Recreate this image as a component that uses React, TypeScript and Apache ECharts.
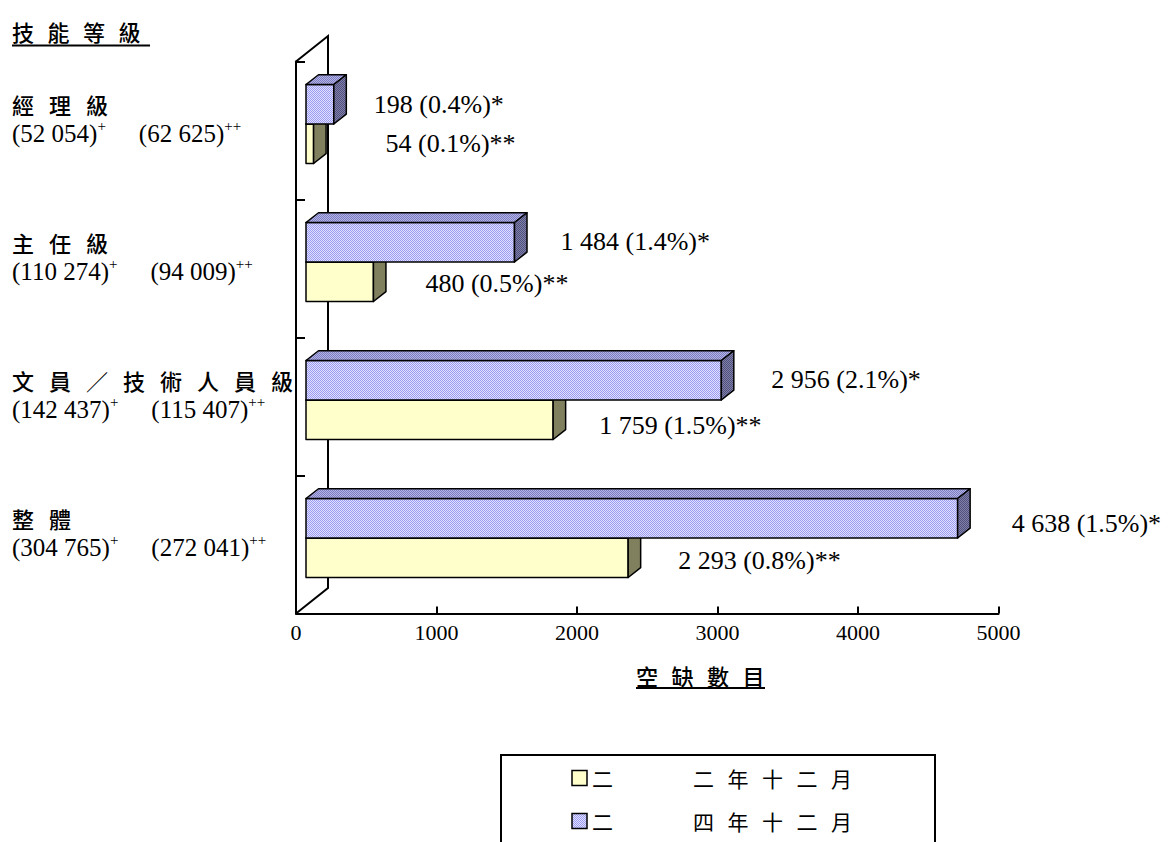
import React, { useEffect, useRef } from 'react';
import * as echarts from 'echarts';

// ---------- data ----------
const categories = ['經 理 級', '主 任 級', '文 員 ／ 技 術 人 員 級', '整 體'];
const employmentPlus = ['52 054', '110 274', '142 437', '304 765'];
const employmentPlusPlus = ['62 625', '94 009', '115 407', '272 041'];
const vacancies2002 = [54, 480, 1759, 2293];
const vacancies2004 = [198, 1484, 2956, 4638];
const rate2002 = [0.1, 0.5, 1.5, 0.8];
const rate2004 = [0.4, 1.4, 2.1, 1.5];
const seriesNames = ['二○○二年十二月', '二○○四年十二月'];
const legendVisible = [
  ['二', '二 年 十 二 月'],
  ['二', '四 年 十 二 月'],
];
const xMin = 0;
const xMax = 5000;
const xStep = 1000;
const yTitle = '技 能 等 級';
const xTitle = '空 缺 數 目';

// ---------- layout / style ----------
const GRID = { left: 296, top: 61.5, width: 702.5, height: 552 };
const FACE = [10, -6.5]; // offset of the bars' front face from the front plane
const DEPTH = [12.5, -9.8]; // bar depth
const WALL = [32, -25.5]; // wall depth
const BAR_FRAC = 0.286;
const LABEL_OFF_2004 = [[40, 0], [46, -1], [50, -1], [54, 5]];
const LABEL_OFF_2002 = [[72, 0], [52, 2], [46, 6], [50, 3]];
const LEGEND_BOX = { x: 501, y: 755, w: 434, h: 120 };
const LEGEND_ROWS = [778, 821];
const CJK = '"Noto Sans CJK TC", "Noto Sans CJK SC", sans-serif';
const SERIF = '"Liberation Serif", "Times New Roman", serif';

const fmt = (n: number) => String(n).replace(/\B(?=(\d{3})+(?!\d))/g, ' ');
const spaced = (s: string, cls: string, gap: string) =>
  s.split(' ').map((ch) => `{${cls}|${ch}}`).join(`{${gap}| }`);

function checker(a: string, b: string) {
  const c = document.createElement('canvas');
  c.width = 2;
  c.height = 2;
  const ctx = c.getContext('2d')!;
  ctx.fillStyle = a;
  ctx.fillRect(0, 0, 2, 2);
  ctx.fillStyle = b;
  ctx.fillRect(0, 0, 1, 1);
  ctx.fillRect(1, 1, 1, 1);
  return { image: c, repeat: 'repeat' } as any;
}

export default function App() {
  const ref = useRef<HTMLDivElement>(null);

  useEffect(() => {
    if (!ref.current) return;
    const chart = echarts.init(ref.current, undefined, { renderer: 'svg' });

    const blueFront = checker('#E2E2FF', '#9A9AF2');
    const blueTop = checker('#B4B4E6', '#7C7CC0');
    const blueSide = checker('#8080A8', '#50507E');
    const yellowFills = { front: '#FFFFCC', top: '#E8E8A8', side: '#80805F' };
    const blueFills = { front: blueFront, top: blueTop, side: blueSide };
    const swatchFills = [yellowFills.front, blueFront];

    const makeBar = (upper: boolean, fills: any, values: number[], rates: number[], offs: number[][], stars: string) =>
      (params: any, api: any) => {
        const ci = api.value(0) as number;
        const v = api.value(1) as number;
        const p0 = api.coord([0, ci]);
        const p1 = api.coord([v, ci]);
        const band = api.size([0, 1])[1];
        const h = band * BAR_FRAC;
        const cy = p0[1] + FACE[1];
        const top = upper ? cy - h : cy;
        const bot = top + h;
        const L = p0[0] + FACE[0];
        const R = p1[0] + FACE[0];
        const [dx, dy] = DEPTH;
        const stroke = { stroke: '#000', lineWidth: 1.5, lineJoin: 'round' };
        const label = `${fmt(values[ci])} (${rates[ci].toFixed(1)}%)${stars}`;
        const off = offs[ci];
        return {
          type: 'group',
          children: [
            { type: 'rect', shape: { x: L, y: top, width: R - L, height: h }, style: { fill: fills.front, ...stroke } },
            {
              type: 'polygon',
              shape: { points: [[L, top], [L + dx, top + dy], [R + dx, top + dy], [R, top]] },
              style: { fill: fills.top, ...stroke },
            },
            {
              type: 'polygon',
              shape: { points: [[R, top], [R + dx, top + dy], [R + dx, bot + dy], [R, bot]] },
              style: { fill: fills.side, ...stroke },
            },
            {
              type: 'text',
              x: R + off[0],
              y: (top + bot) / 2 + off[1],
              style: {
                text: label,
                fill: '#000',
                fontSize: 26,
                fontFamily: SERIF,
                align: 'left',
                verticalAlign: 'middle',
                textAlign: 'left',
                textVerticalAlign: 'middle',
              },
            },
          ],
        };
      };

    const richCJK = {
      h: { fontSize: 22, fontFamily: CJK, fontWeight: 500, color: '#000', lineHeight: 30 },
      g: { width: 15, fontSize: 22, lineHeight: 30 },
      n: { fontSize: 25, fontFamily: SERIF, color: '#000', lineHeight: 30 },
      s: { fontSize: 15, fontFamily: SERIF, color: '#000', lineHeight: 20, verticalAlign: 'top' },
      gap: { width: 33, fontSize: 15, lineHeight: 20 },
    };

    const titleRich = {
      h: { fontSize: 22, fontFamily: CJK, fontWeight: 500, fill: '#000', lineHeight: 24 },
      g: { width: 13.5, fontSize: 22, lineHeight: 24 },
    };

    const legendGraphics: any[] = [
      {
        type: 'rect',
        z: 10,
        shape: { x: LEGEND_BOX.x, y: LEGEND_BOX.y, width: LEGEND_BOX.w, height: LEGEND_BOX.h },
        style: { fill: '#fff', stroke: '#000', lineWidth: 2 },
      },
    ];
    seriesNames.forEach((_, i) => {
      const y = LEGEND_ROWS[i];
      legendGraphics.push({
        type: 'rect',
        z: 11,
        shape: { x: 572, y: y - 7.5, width: 15, height: 15 },
        style: { fill: swatchFills[i], stroke: '#000', lineWidth: 1.5 },
      });
      const [a, b] = legendVisible[i];
      legendGraphics.push({
        type: 'text',
        z: 11,
        x: 592,
        y,
        style: {
          text: `{t|${a}}{w| }` + spaced(b, 't', 'g'),
          verticalAlign: 'middle',
          align: 'left',
          rich: {
            t: { fontSize: 21, fontFamily: CJK, fill: '#000', lineHeight: 22 },
            w: { width: 80, fontSize: 21, lineHeight: 22 },
            g: { width: 13.5, fontSize: 21, lineHeight: 22 },
          },
        },
      });
    });

    const option: any = {
      animation: false,
      backgroundColor: '#fff',
      grid: { left: GRID.left, top: GRID.top, width: GRID.width, height: GRID.height, containLabel: false },
      xAxis: {
        type: 'value',
        position: 'bottom',
        min: xMin,
        max: xMax,
        interval: xStep,
        splitLine: { show: false },
        axisLine: { show: true, lineStyle: { color: '#000', width: 2 } },
        axisTick: { show: true, inside: true, length: 7, lineStyle: { color: '#000', width: 2 } },
        axisLabel: {
          color: '#000',
          fontFamily: SERIF,
          fontSize: 22,
          margin: 8,
          formatter: (v: number) => String(v),
        },
      },
      yAxis: {
        type: 'category',
        inverse: true,
        data: categories,
        axisLine: { show: true, lineStyle: { color: '#000', width: 2 } },
        axisTick: { show: true, inside: true, length: 9, lineStyle: { color: '#000', width: 2 } },
        splitLine: { show: false },
        axisLabel: {
          interval: 0,
          align: 'left',
          margin: GRID.left - 12,
          padding: [0, 0, 24, 0],
          formatter: (val: string, i: number) =>
            spaced(val, 'h', 'g') +
            '\n' +
            `{n|(${employmentPlus[i]})}{s|+}{gap| }{n|(${employmentPlusPlus[i]})}{s|++}`,
          rich: richCJK,
        },
      },
      graphic: [
        {
          type: 'text',
          left: 12,
          top: 20,
          z: 10,
          style: { text: spaced(yTitle, 'h', 'g'), rich: titleRich },
        },
        { type: 'line', z: 10, shape: { x1: 12, y1: 45.5, x2: 150, y2: 45.5 }, style: { stroke: '#000', lineWidth: 2 } },
        {
          type: 'text',
          left: 636,
          top: 664,
          z: 10,
          style: { text: spaced(xTitle, 'h', 'g'), rich: titleRich },
        },
        { type: 'line', z: 10, shape: { x1: 636, y1: 688, x2: 765, y2: 688 }, style: { stroke: '#000', lineWidth: 2 } },
        ...legendGraphics,
      ],
      series: [
        {
          type: 'custom',
          name: 'wall',
          silent: true,
          z: 1,
          data: [[0, 0]],
          encode: { y: 0, x: 1 },
          renderItem: (params: any) => {
            const cs = params.coordSys;
            const x = cs.x;
            const y = cs.y;
            const b = cs.y + cs.height;
            return {
              type: 'polyline',
              shape: { points: [[x, y], [x + WALL[0], y + WALL[1]], [x + WALL[0], b + WALL[1]], [x, b]] },
              style: { stroke: '#000', lineWidth: 2, fill: 'none' },
            };
          },
        },
        {
          type: 'custom',
          name: seriesNames[0],
          z: 2,
          itemStyle: { color: yellowFills.front },
          data: vacancies2002.map((v, i) => [i, v]),
          encode: { y: 0, x: 1 },
          renderItem: makeBar(false, yellowFills, vacancies2002, rate2002, LABEL_OFF_2002, '**'),
        },
        {
          type: 'custom',
          name: seriesNames[1],
          z: 2,
          itemStyle: { color: '#B8B8F8' },
          data: vacancies2004.map((v, i) => [i, v]),
          encode: { y: 0, x: 1 },
          renderItem: makeBar(true, blueFills, vacancies2004, rate2004, LABEL_OFF_2004, '*'),
        },
      ],
    };

    chart.setOption(option);
    return () => chart.dispose();
  }, []);

  return (
    <div
      ref={ref}
      style={{ position: 'absolute', left: 0, top: 0, width: 1168, height: 842, background: '#fff' }}
    />
  );
}
